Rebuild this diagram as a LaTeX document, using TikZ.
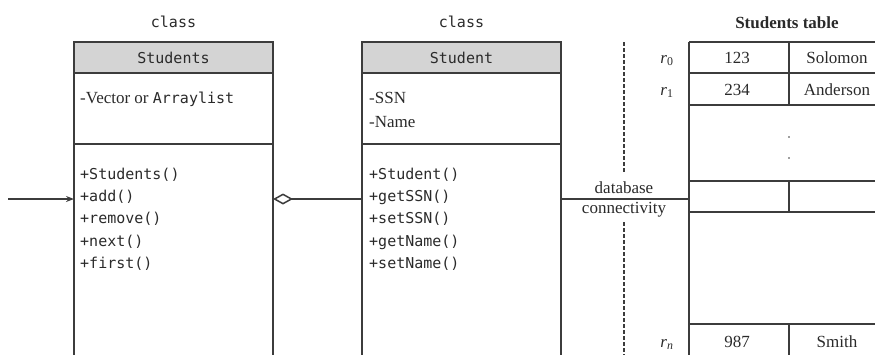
\documentclass[tikz,border=0pt]{standalone}
\usepackage{fontspec}
\setmainfont{Liberation Serif}
\newfontfamily\monof{DejaVu Sans Mono}
\usetikzlibrary{arrows.meta}
\definecolor{ln}{HTML}{3C3C3C}
\definecolor{tx}{HTML}{2A2A2A}
\definecolor{hd}{HTML}{D4D4D4}
\begin{document}
\begin{tikzpicture}[x=1pt,y=-1pt,
  line/.style={draw=ln, line width=1.5pt},
  mono/.style={font=\monof\fontsize{15}{17}\selectfont, text=tx, inner sep=0pt},
  serif/.style={font=\fontsize{17}{19}\selectfont, text=tx, inner sep=0pt},
  serifb/.style={font=\bfseries\fontsize{17}{19}\selectfont, text=tx, inner sep=0pt},
  hdr/.style={draw=ln, line width=1.5pt, fill=hd, minimum width=199pt, minimum height=31pt, inner sep=0pt, outer sep=0pt, mono},
  dashedline/.style={draw=ln, line width=1.2pt, dash pattern=on 4pt off 2pt}]
\useasboundingbox (0,0) rectangle (875,354);
\clip (0,0) rectangle (875,354);

% ---- class Students
\node[mono, anchor=base] (cl1) at (173.5,27) {class};
\node[hdr] (h1) at (173.5,57.5) {Students};
\draw[line] (h1.south west) -- ++(0,300);
\draw[line] (h1.south east) -- ++(0,300);
\draw[line] (74,144) -- (273,144);
\node[anchor=base west, inner sep=0pt, text=tx] (a1) at (80,103)
  {\fontsize{17}{19}\selectfont -Vector or {\monof\fontsize{15}{17}\selectfont Arraylist}};
\foreach \t [count=\i from 0] in {+Students(),+add(),+remove(),+next(),+first()}
  \node[mono, anchor=base west] (m1\i) at (80,179+22.4*\i) {\t};

% ---- class Student
\node[mono, anchor=base] (cl2) at (461.5,27) {class};
\node[hdr] (h2) at (461.5,57.5) {Student};
\draw[line] (h2.south west) -- ++(0,300);
\draw[line] (h2.south east) -- ++(0,300);
\draw[line] (363,144) -- (560,144);
\node[serif, anchor=base west] (a2) at (369,103) {-SSN};
\node[serif, anchor=base west] (a3) at (369,127) {-Name};
\foreach \t [count=\i from 0] in {+Student(),+getSSN(),+setSSN(),+getName(),+setName()}
  \node[mono, anchor=base west] (m2\i) at (369,179+22.4*\i) {\t};

% ---- connectors
\coordinate (src) at (8,199);
\coordinate (tl) at (689,42);
\draw[line, -{Stealth[length=8pt,width=6pt]}] (src) -- (src -| h1.west);
\draw[line, {Diamond[open,length=20pt,width=11pt,fill=white]}-] (src -| h1.east) -- (src -| h2.west);
\draw[line] (src -| h2.east) -- (src -| tl);
\node[serif, anchor=base] (db1) at (624,193) {database};
\node[serif, anchor=base] (db2) at (624,213) {connectivity};

% ---- dashed separator
\draw[dashedline] (624,42) -- (624,172);
\draw[dashedline] (624,222) -- (624,360);

% ---- Students table
\node[serifb, anchor=base] (tt) at (787,28) {Students table};
\draw[line] (tl) -- (689,360);
\foreach \y in {42,73,105,181,212,324}
  \draw[line] (689,\y) -- (880,\y);
\draw[line] (789,42) -- (789,105);
\draw[line] (789,181) -- (789,212);
\draw[line] (789,324) -- (789,360);
\fill[ln] (789,137) circle (0.9pt);
\fill[ln] (789,158) circle (0.9pt);

\node[serif, anchor=base] (c11) at (737,63) {123};
\node[serif, anchor=base] (c12) at (837,63) {Solomon};
\node[serif, anchor=base] (c21) at (737,95) {234};
\node[serif, anchor=base] (c22) at (837,95) {Anderson};
\node[serif, anchor=base] (cn1) at (737,347) {987};
\node[serif, anchor=base] (cn2) at (837,347) {Smith};

\node[serif, anchor=base] (r0) at (667,63) {\textit{r}\textsubscript{0}};
\node[serif, anchor=base] (r1) at (667,95) {\textit{r}\textsubscript{1}};
\node[serif, anchor=base] (rn) at (667,347) {\textit{r}\textsubscript{\textit{n}}};
\end{tikzpicture}
\end{document}
